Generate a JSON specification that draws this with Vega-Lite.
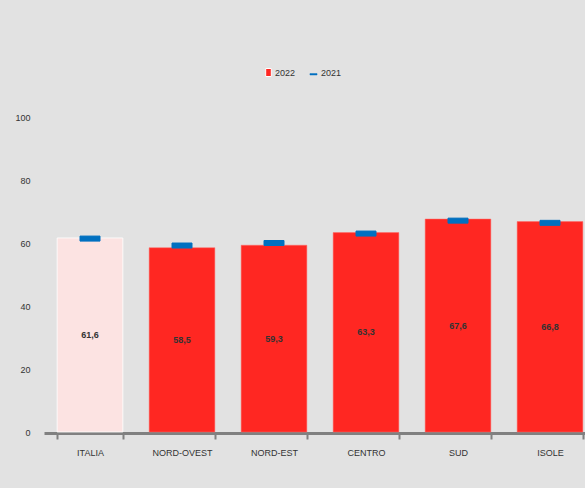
{
  "$schema": "https://vega.github.io/schema/vega-lite/v6.json",
  "autosize": {"type": "none"},
  "width": 541,
  "height": 315,
  "padding": {"left": 44, "top": 117, "right": 0, "bottom": 56},
  "background": "#e2e2e2",
  "config": {
    "view": {"stroke": null},
    "font": "Liberation Sans Narrow, Liberation Sans, Arial, sans-serif",
    "locale": {"number": {"decimal": ",", "thousands": ".", "grouping": [3], "currency": ["€", ""]}}
  },
  "data": {
    "values": [
      {"area": "ITALIA", "v2022": 61.6, "v2021": 61.4},
      {"area": "NORD-OVEST", "v2022": 58.5, "v2021": 59.2},
      {"area": "NORD-EST", "v2022": 59.3, "v2021": 60.0},
      {"area": "CENTRO", "v2022": 63.3, "v2021": 63.0},
      {"area": "SUD", "v2022": 67.6, "v2021": 67.1},
      {"area": "ISOLE", "v2022": 66.8, "v2021": 66.4}
    ]
  },
  "encoding": {
    "x": {
      "field": "area",
      "type": "nominal",
      "scale": {
        "domain": ["ITALIA", "NORD-OVEST", "NORD-EST", "CENTRO", "SUD", "ISOLE"],
        "range": [0, 552],
        "paddingInner": 0.286,
        "paddingOuter": 0.143
      },
      "axis": {
        "title": null,
        "labelAngle": 0,
        "labelFontSize": 9,
        "labelColor": "#333333",
        "domainColor": "#808080",
        "domainWidth": 3,
        "tickColor": "#808080",
        "tickWidth": 2,
        "tickSize": 6,
        "tickBand": "extent",
        "labelPadding": 9,
        "offset": 1
      }
    }
  },
  "layer": [
    {
      "layer": [
        {
          "transform": [{"filter": "datum.area !== 'ITALIA'"}],
          "mark": {"type": "bar", "stroke": "#ff6b66", "strokeWidth": 0.5},
          "encoding": {
            "y": {
              "field": "v2022",
              "type": "quantitative",
              "scale": {"domain": [0, 100]},
              "axis": {
                "title": null,
                "values": [0, 20, 40, 60, 80, 100],
                "grid": false,
                "domain": false,
                "ticks": false,
                "labelFontSize": 9,
                "labelColor": "#333333",
                "labelPadding": 14
              }
            },
            "fill": {
              "datum": "2022",
              "scale": {"domain": ["2022"], "range": ["#ff2722"]},
              "legend": {
                "title": null,
                "orient": "none",
                "direction": "horizontal",
                "legendX": 220,
                "legendY": -49,
                "labelFontSize": 9,
                "labelColor": "#333333",
                "symbolSize": 64,
                "symbolType": "M-0.7,-1H0.7V1H-0.7Z",
                "symbolOpacity": 1,
                "symbolStrokeColor": "#ffffff",
                "symbolStrokeWidth": 1,
                "labelOffset": 2
              }
            }
          }
        },
        {
          "transform": [{"filter": "datum.area === 'ITALIA'"}],
          "mark": {"type": "bar", "fill": "#fce3e2", "stroke": "#ffffff", "strokeWidth": 0.8},
          "encoding": {
            "y": {"field": "v2022", "type": "quantitative"}
          }
        },
        {
          "mark": {"type": "tick", "thickness": 5, "size": 20, "opacity": 1, "fill": "#0070c0", "strokeWidth": 1},
          "encoding": {
            "y": {"field": "v2021", "type": "quantitative"},
            "stroke": {
              "datum": "2021",
              "scale": {"domain": ["2021"], "range": ["#0070c0"]},
              "legend": {
                "title": null,
                "orient": "none",
                "direction": "horizontal",
                "legendX": 265,
                "legendY": -49,
                "labelFontSize": 9,
                "labelColor": "#333333",
                "symbolSize": 50,
                "symbolType": "M-1,0.3H1V0.7H-1Z",
                "symbolFillColor": "#0070c0",
                "symbolOpacity": 1,
                "symbolStrokeWidth": 0.5,
                "labelOffset": 3
              }
            }
          }
        }
      ]
    },
    {
      "mark": {"type": "text", "fontSize": 9, "fontWeight": "bold", "color": "#333333"},
      "encoding": {
        "y": {"field": "v2022", "type": "quantitative", "scale": {"domain": [0, 200]}, "axis": null},
        "text": {"field": "v2022", "type": "quantitative", "format": ".1f"}
      }
    }
  ],
  "resolve": {"scale": {"y": "independent"}}
}
